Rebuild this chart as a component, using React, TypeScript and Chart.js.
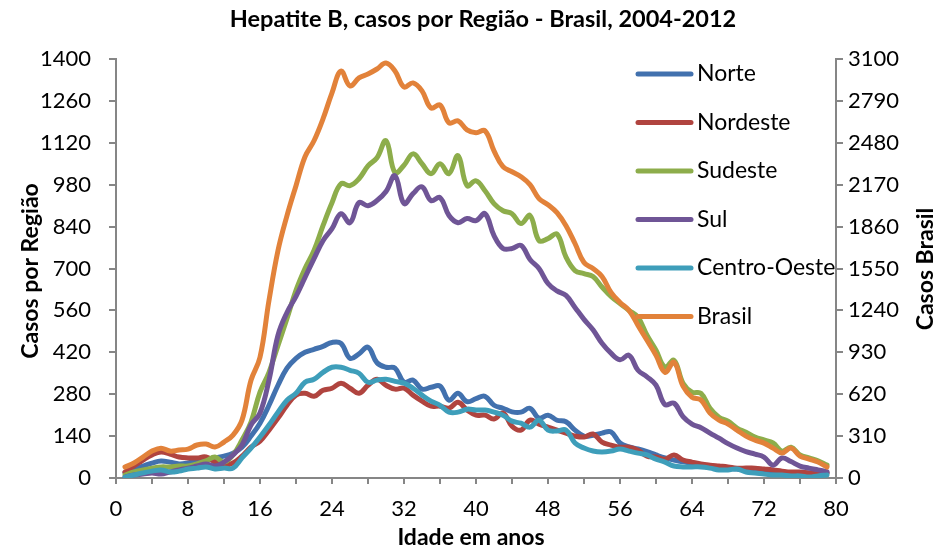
import React, { useEffect, useRef } from "react";
import { Chart, registerables } from "chart.js";

Chart.register(...registerables);

const chartTitle = "Hepatite B, casos por Região - Brasil, 2004-2012";
const xTitle = "Idade em anos";
const yLeftTitle = "Casos por Região";
const yRightTitle = "Casos Brasil";

const ages = [
  1, 2, 3, 4, 5, 6, 7, 8, 9, 10, 11, 12, 13, 14, 15, 16, 17, 18, 19, 20,
  21, 22, 23, 24, 25, 26, 27, 28, 29, 30, 31, 32, 33, 34, 35, 36, 37, 38, 39, 40,
  41, 42, 43, 44, 45, 46, 47, 48, 49, 50, 51, 52, 53, 54, 55, 56, 57, 58, 59, 60,
  61, 62, 63, 64, 65, 66, 67, 68, 69, 70, 71, 72, 73, 74, 75, 76, 77, 78, 79,
];

const norte = [
  17, 30, 40, 50, 57, 53, 47, 50, 57, 60,
  67, 73, 83, 103, 140, 183, 243, 310, 367, 400,
  420, 430, 440, 453, 450, 400, 415, 437, 385, 370,
  367, 320, 327, 297, 303, 307, 260, 283, 255, 265,
  273, 243, 233, 221, 220, 233, 200, 210, 193, 188,
  160, 140, 143, 150, 154, 117, 104, 97, 88, 77,
  67, 60, 54, 50, 43, 40, 33, 33, 30, 27,
  27, 23, 20, 20, 17, 17, 17, 17, 17,
];

const nordeste = [
  20, 40, 60, 77, 87, 80, 70, 67, 67, 70,
  53, 43, 50, 73, 103, 123, 160, 200, 243, 277,
  283, 273, 293, 300, 317, 300, 283, 310, 330, 310,
  297, 300, 277, 257, 240, 240, 233, 253, 227, 210,
  210, 197, 217, 173, 160, 193, 180, 170, 160, 150,
  140, 137, 147, 120, 110, 103, 103, 93, 73, 70,
  63, 77, 60, 53, 47, 43, 40, 37, 33, 33,
  33, 30, 27, 23, 20, 20, 17, 17, 17,
];

const sudeste = [
  10, 20, 27, 33, 37, 37, 40, 40, 47, 57,
  70, 53, 77, 127, 187, 287, 353, 443, 533, 627,
  700, 760, 843, 920, 983, 977, 1000, 1043, 1070, 1127,
  1020, 1045, 1083, 1050, 1017, 1050, 1017, 1077, 977, 993,
  960, 917, 893, 883, 850, 877, 793, 800, 815, 738,
  693, 683, 673, 638, 607, 583, 560, 537, 477, 427,
  370, 393, 317, 287, 283, 233, 203, 190, 167, 153,
  137, 127, 117, 90, 103, 77, 67, 57, 43,
];

const sul = [
  3, 10, 13, 17, 13, 20, 27, 33, 40, 47,
  40, 53, 77, 110, 177, 217, 327, 477, 553, 607,
  670, 733, 793, 833, 883, 853, 920, 910, 927, 957,
  1010, 917, 950, 973, 927, 937, 877, 853, 867, 860,
  883, 810, 767, 767, 777, 730, 700, 650, 625, 610,
  570, 530, 495, 450, 417, 395, 410, 360, 338, 310,
  245, 250, 205, 180, 168, 150, 133, 115, 100, 88,
  80, 70, 43, 67, 55, 40, 33, 27, 21,
];

const centroOeste = [
  3, 10, 17, 23, 27, 20, 23, 30, 33, 37,
  30, 33, 33, 67, 100, 137, 177, 220, 260, 283,
  320, 330, 353, 370, 370, 360, 350, 320, 327, 330,
  323, 317, 300, 277, 257, 243, 220, 220, 230, 227,
  227, 220, 210, 190, 183, 170, 193, 160, 157, 160,
  117, 100, 90, 87, 90, 97, 90, 83, 77, 63,
  53, 40, 37, 37, 37, 33, 27, 27, 30, 20,
  17, 13, 10, 10, 7, 7, 3, 7, 10,
];

const brasil = [
  81, 111, 155, 199, 221, 199, 207, 214, 244, 251,
  229, 266, 317, 428, 723, 893, 1314, 1683, 1941, 2163,
  2377, 2495, 2657, 2849, 3011, 2901, 2960, 2989, 3026, 3070,
  3011, 2893, 2923, 2864, 2738, 2760, 2628, 2642, 2576, 2554,
  2569, 2421, 2303, 2266, 2229, 2170, 2067, 2022, 1963, 1867,
  1735, 1594, 1550, 1491, 1373, 1299, 1240, 1129, 1019, 908,
  782, 856, 679, 598, 576, 480, 428, 399, 354, 310,
  280, 258, 221, 185, 221, 162, 140, 118, 81,
];

const seriesNames = ["Norte", "Nordeste", "Sudeste", "Sul", "Centro-Oeste", "Brasil"];
const seriesValues = [norte, nordeste, sudeste, sul, centroOeste, brasil];
const seriesColors = ["#4271AE", "#B0443F", "#8DAD4B", "#6F5596", "#3E9EBA", "#E2823A"];
const seriesAxis = ["y", "y", "y", "y", "y", "y1"];

const FONT = "Lato, 'Open Sans', sans-serif";

const decorPlugin = {
  id: "decor",
  afterDraw(chart: any) {
    const ctx = chart.ctx;
    ctx.save();
    ctx.fillStyle = "#000";
    // title
    ctx.font = `bold 23.5px ${FONT}`;
    ctx.textAlign = "center";
    ctx.textBaseline = "middle";
    ctx.fillText(chartTitle, 483, 19);
    // x title
    ctx.font = `bold 23px ${FONT}`;
    ctx.fillText(xTitle, 471, 538);
    // left y title
    ctx.save();
    ctx.translate(31, 271);
    ctx.rotate(-Math.PI / 2);
    ctx.fillText(yLeftTitle, 0, 0);
    ctx.restore();
    // right y title
    ctx.save();
    ctx.translate(926, 269);
    ctx.rotate(-Math.PI / 2);
    ctx.fillText(yRightTitle, 0, 0);
    ctx.restore();
    // legend
    const ds = chart.data.datasets;
    ctx.font = `23px ${FONT}`;
    ctx.textAlign = "left";
    for (let i = 0; i < ds.length; i++) {
      const y = 74 + i * 48.5;
      ctx.strokeStyle = ds[i].borderColor;
      ctx.lineWidth = 5;
      ctx.lineCap = "round";
      ctx.beginPath();
      ctx.moveTo(638, y);
      ctx.lineTo(691, y);
      ctx.stroke();
      ctx.fillStyle = "#000";
      ctx.fillText(ds[i].label, 697, y);
    }
    ctx.restore();
  },
};

export default function App() {
  const ref = useRef<HTMLCanvasElement>(null);
  useEffect(() => {
    const datasets = seriesNames.map((name, i) => ({
      label: name,
      data: ages.map((a, j) => ({ x: a, y: seriesValues[i][j] })),
      borderColor: seriesColors[i],
      backgroundColor: seriesColors[i],
      borderWidth: 5,
      pointRadius: 0,
      tension: 0.4,
      fill: false,
      yAxisID: seriesAxis[i],
      order: seriesNames.length - 1 - i,
      borderCapStyle: "round",
      borderJoinStyle: "round",
    }));
    const tickFont = { family: FONT, size: 22 };
    const plain = (v: any) => String(v);
    const chart = new Chart(ref.current!, {
      type: "line",
      data: { datasets } as any,
      options: {
        responsive: false,
        animation: false,
        devicePixelRatio: 1,
        layout: { padding: { top: 59, left: 0, right: 0, bottom: 0 } },
        plugins: { legend: { display: false }, title: { display: false }, tooltip: { enabled: false } },
        scales: {
          x: {
            type: "linear",
            min: 0,
            max: 80,
            ticks: {
              stepSize: 4,
              autoSkip: false,
              maxRotation: 0,
              color: "#000",
              font: tickFont,
              padding: 12,
              callback: (v: any) => (Number(v) % 8 === 0 ? String(v) : ""),
            },
            grid: { drawOnChartArea: false, drawTicks: true, tickLength: 6, color: "#868686", lineWidth: 2 },
            border: { color: "#868686", width: 2 },
            afterFit: (s: any) => {
              s.height = 73;
            },
          },
          y: {
            position: "left",
            min: 0,
            max: 1400,
            ticks: { stepSize: 140, color: "#000", font: tickFont, padding: 18, callback: plain },
            grid: { drawOnChartArea: false, drawTicks: true, tickLength: 7, color: "#868686", lineWidth: 2 },
            border: { color: "#868686", width: 2 },
            afterFit: (s: any) => {
              s.width = 116;
            },
          },
          y1: {
            position: "right",
            min: 0,
            max: 3100,
            ticks: { stepSize: 310, color: "#000", font: tickFont, padding: 5, callback: plain },
            grid: { drawOnChartArea: false, drawTicks: true, tickLength: 7, color: "#868686", lineWidth: 2 },
            border: { color: "#868686", width: 2 },
            afterFit: (s: any) => {
              s.width = 111;
            },
          },
        },
      } as any,
      plugins: [decorPlugin],
    });
    return () => chart.destroy();
  }, []);
  return (
    <div style={{ position: "fixed", left: 0, top: 0, width: 947, height: 551, background: "#fff" }}>
      <canvas ref={ref} width={947} height={551} style={{ width: 947, height: 551, display: "block" }} />
    </div>
  );
}
